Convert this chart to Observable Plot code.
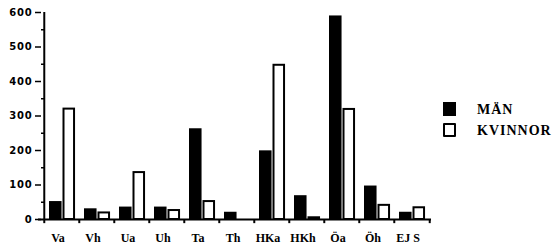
<!DOCTYPE html>
<html>
<head>
<meta charset="utf-8">
<script src="https://cdn.jsdelivr.net/npm/d3@7"></script>
<script src="https://cdn.jsdelivr.net/npm/@observablehq/plot@0.6"></script>
<style>
  html, body { margin: 0; padding: 0; background: #fff; }
  #wrap { position: relative; width: 552px; height: 249px; }
  #wrap svg [aria-label="y-axis tick label"] text { letter-spacing: 0.8px; font-weight: bold; }
  #wrap svg [aria-label="x-axis tick label"] text { font-weight: bold; }
  .leg { position: absolute; font-family: "Liberation Serif", "DejaVu Serif", serif; font-weight: bold; font-size: 14px; color: #000; line-height: 14px; letter-spacing: 1px; }
  .sw { position: absolute; width: 13px; height: 14px; box-sizing: border-box; }
</style>
</head>
<body>
<div id="wrap"></div>
<script>
const categories = ["Va", "Vh", "Ua", "Uh", "Ta", "Th", "HKa", "HKh", "Öa", "Öh", "EJ S"];
const men = [52, 31, 36, 36, 263, 21, 199, 69, 590, 97, 21];
const women = [320, 19, 136, 26, 52, 0, 447, 5, 319, 41, 34];
const seriesNames = ["MÄN", "KVINNOR"];
const yTicks = [0, 100, 200, 300, 400, 500, 600];
const yMinorTicks = [50, 150, 250, 350, 450, 550];

const rows = categories.map((c, i) => ({cat: c, men: men[i], women: women[i]}));

const W = 552, H = 249;
const mL = 41, mR = 121, mT = 12, mB = 30;
const bw = (W - mL - mR) / categories.length;

const chart = Plot.plot({
  width: W,
  height: H,
  marginLeft: mL,
  marginRight: mR,
  marginTop: mT,
  marginBottom: mB,
  x: {type: "band", domain: categories, padding: 0, axis: null, label: null},
  y: {domain: [0, 600], axis: null, label: null},
  style: {background: "#fff", color: "#000"},
  marks: [
    Plot.barY(rows, {x: "cat", y: "men", fill: "#000", insetLeft: 5, insetRight: bw - 18}),
    Plot.barY(rows, {x: "cat", y: "women", fill: "#fff", stroke: "#000", strokeWidth: 2, insetLeft: 19.5, insetRight: bw - 30.5}),
    // axis lines
    Plot.ruleY([0], {strokeWidth: 2, stroke: "#000", insetLeft: -3}),
    Plot.ruleX([categories[0]], {y1: 0, y2: 600, dx: -bw / 2, strokeWidth: 2, stroke: "#000"}),
    // x boundary ticks
    Plot.ruleX(categories, {x: d => d, y1: 0, y2: -12, dx: -bw / 2, strokeWidth: 2, stroke: "#000"}),
    Plot.ruleX([categories[categories.length - 1]], {y1: 0, y2: -12, dx: bw / 2, strokeWidth: 2, stroke: "#000"}),
    // y axis
    Plot.axisY({
      ticks: yTicks, tickSize: 6, tickPadding: 3, strokeWidth: 1.5, label: null,
      fontSize: 10, fontWeight: "bold", fontFamily: "DejaVu Sans", tickFormat: d => String(d)
    }),
    Plot.axisY({ticks: yMinorTicks, tickSize: -3, text: null, label: null, strokeWidth: 1.5}),
    // x labels
    Plot.axisX({
      tickSize: 0, tickPadding: 14, dx: -4, label: null,
      fontSize: 12, fontWeight: "bold", fontFamily: "Liberation Serif"
    })
  ]
});

const wrap = document.getElementById("wrap");
wrap.appendChild(chart);

// legend
const legendY = [102, 123];
seriesNames.forEach((name, i) => {
  const sw = document.createElement("div");
  sw.className = "sw";
  sw.style.left = "443px";
  sw.style.top = legendY[i] + "px";
  if (i === 0) { sw.style.background = "#000"; }
  else { sw.style.background = "#fff"; sw.style.border = "2px solid #000"; sw.style.borderRadius = "1px"; }
  wrap.appendChild(sw);
  const t = document.createElement("div");
  t.className = "leg";
  t.style.left = "477px";
  t.style.top = (legendY[i] + 1) + "px";
  t.textContent = name;
  wrap.appendChild(t);
});
</script>
</body>
</html>
